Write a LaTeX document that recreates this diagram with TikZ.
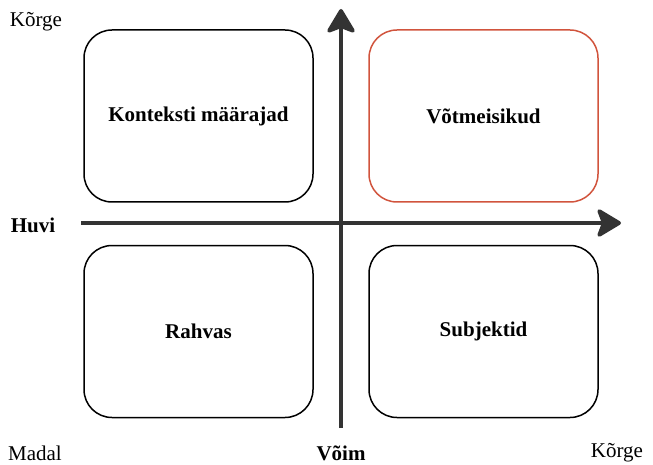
\documentclass[tikz,border=0pt]{standalone}
\usepackage{fontspec}
\setmainfont{Liberation Serif}
\usepackage{tikz}
\usetikzlibrary{arrows.meta, positioning, calc}
\definecolor{axisgray}{rgb}{0.2,0.2,0.2}
\definecolor{keyred}{rgb}{0.82,0.33,0.24}

\begin{document}
\begin{tikzpicture}[x=1pt, y=-1pt,
  >={Stealth[length=27pt, width=32pt, inset=6pt, round]},
  quad/.style={draw, rounded corners=28pt, line width=1.5pt,
    minimum width=229pt, minimum height=172pt, align=center,
    font=\fontsize{21}{24}\selectfont\bfseries},
  axis/.style={draw=axisgray, line width=3.8pt},
  lbl/.style={font=\fontsize{21}{24}\selectfont, inner sep=0pt}
]
\useasboundingbox (0,0) rectangle (653,465);
\node[quad] (context) at (198.5,116) {Konteksti määrajad};
\node[quad, draw=keyred] (key) at (483.5,116) {Võtmeisikud};
\node[quad] (crowd) at (198.5,331.5) {Rahvas};
\node[quad] (subject) at (483.5,331.5) {Subjektid};

\coordinate (vlow) at (341,428);
\coordinate (vhigh) at (341,9);
\coordinate (hlow) at (81,223);
\coordinate (hhigh) at (621,223);
\draw[axis, ->, axisgray] (vlow) -- (vhigh);
\draw[axis, ->, axisgray] (hlow) -- (hhigh);

\node[lbl] (hightop) at (36,22) {Kõrge};
\node[lbl, font=\fontsize{21}{24}\selectfont\bfseries] (interest) at (33,225) {Huvi};
\node[lbl] (low) at (35,453) {Madal};
\node[lbl, font=\fontsize{21}{24}\selectfont\bfseries] (power) at (341,453) {Võim};
\node[lbl] (highright) at (617,453) {Kõrge};
\end{tikzpicture}
\end{document}
